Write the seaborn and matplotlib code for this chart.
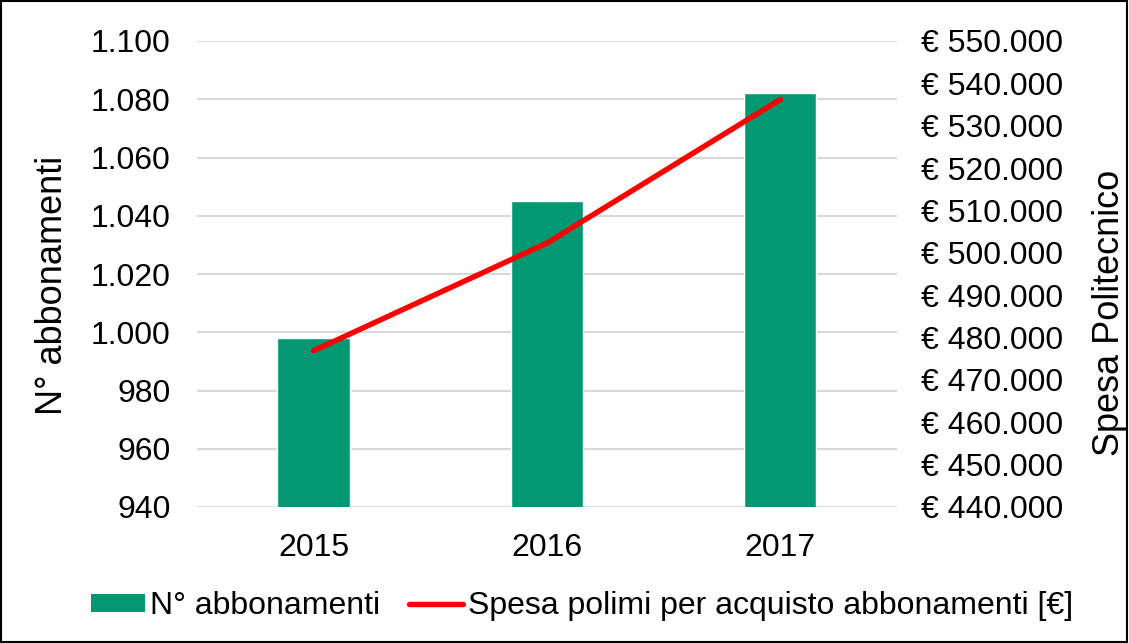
import matplotlib
matplotlib.use("Agg")
import matplotlib.pyplot as plt
import matplotlib.ticker as mticker
from matplotlib.patches import Patch, Rectangle
from matplotlib.lines import Line2D
import seaborn as sns
import pandas as pd

# Data
anni = ["2015", "2016", "2017"]
abbonamenti = [998, 1045, 1082]
spesa = [476900, 502300, 536200]

bar_color = "#039874"
line_color = "#FF0000"
grid_color = "#D9D9D9"

sns.set_theme(style="white")
plt.rcParams["font.family"] = ["Liberation Sans", "DejaVu Sans"]
plt.rcParams["text.color"] = "black"
plt.rcParams["axes.labelcolor"] = "black"
FS = 23
FS_TITLE = 26

df = pd.DataFrame({"anno": anni, "abbonamenti": abbonamenti, "spesa": spesa})

fig, ax = plt.subplots(figsize=(11.29, 6.43), dpi=100)
fig.subplots_adjust(left=197 / 1129, right=897 / 1129, top=1 - 41 / 643, bottom=1 - 507 / 643)

sns.barplot(data=df, x="anno", y="abbonamenti", color=bar_color, width=0.31,
            saturation=1, ax=ax, zorder=2)

ax2 = ax.twinx()
sns.pointplot(data=df, x="anno", y="spesa", color=line_color, marker="",
              linewidth=3.9, ax=ax2)
for ln in ax2.lines:
    ln.set_solid_capstyle("round")
    ln.set_solid_joinstyle("round")

# Left axis
ax.set_ylim(940, 1100)
ax.yaxis.set_major_locator(mticker.MultipleLocator(20))
ax.yaxis.set_major_formatter(mticker.FuncFormatter(lambda v, p: f"{int(v):,}".replace(",", ".")))
ax.grid(axis="y", color=grid_color, linewidth=1.5, zorder=0)
ax.set_axisbelow(True)
ax.set_xlim(-0.5, 2.5)

# Right axis
ax2.set_ylim(440000, 550000)
ax2.yaxis.set_major_locator(mticker.MultipleLocator(10000))
ax2.yaxis.set_major_formatter(mticker.FuncFormatter(lambda v, p: "€ " + f"{int(v):,}".replace(",", ".")))
ax2.set_xlim(-0.5, 2.5)

for a in (ax, ax2):
    for s in a.spines.values():
        s.set_visible(False)
    a.tick_params(length=0, labelsize=FS, colors="black")

ax.tick_params(axis="y", pad=19)
ax2.tick_params(axis="y", pad=17)
ax.tick_params(axis="x", pad=19)

ax.set_xlabel("")
ax.set_ylabel("N° abbonamenti", fontsize=FS_TITLE, color="black")
ax.yaxis.set_label_coords(-127 / 700, 0.476)
ax2.set_ylabel("Spesa Politecnico", fontsize=FS_TITLE, color="black", rotation=90)
ax2.yaxis.set_label_coords(1 + 195 / 700, 0.416)

handles = [
    Patch(facecolor=bar_color, edgecolor="none", label="N° abbonamenti"),
    Line2D([0], [0], color=line_color, lw=3.9, solid_capstyle="round",
           label="Spesa polimi per acquisto abbonamenti [€]"),
]
leg = fig.legend(handles=handles, loc="center", bbox_to_anchor=(582 / 1129, 1 - 606 / 643),
                 ncol=2, frameon=False, fontsize=FS, handlelength=1.7, handleheight=0.5,
                 handletextpad=0.15, columnspacing=0.9, borderpad=0, borderaxespad=0)
for t in leg.get_texts():
    t.set_color("black")

fig.patches.append(Rectangle((0.001, 0.001), 0.997, 0.997, transform=fig.transFigure,
                             fill=False, edgecolor="black", linewidth=1.5))

fig.savefig("out.png", dpi=100)
